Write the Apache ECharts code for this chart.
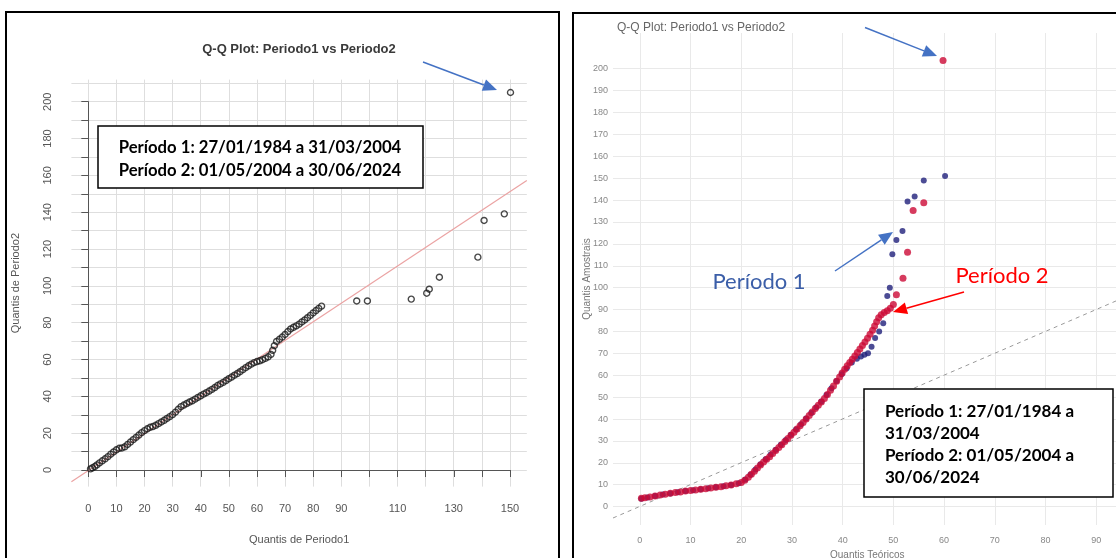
<!DOCTYPE html>
<html>
<head>
<meta charset="utf-8">
<title>Q-Q Plot: Periodo1 vs Periodo2</title>
<script src="https://cdn.jsdelivr.net/npm/echarts@6/dist/echarts.min.js"></script>
</head>
<body style="margin:0; background:#fff">
<div id="main" style="width:1116px; height:558px"></div>
<script>
// ---- gráfico da esquerda: quantis Periodo1 (x) contra Periodo2 (y) ----
var quantisP1 = [0.8, 1.5, 2.3, 3.1, 4, 5, 6, 7, 8, 9, 10, 11, 12, 13, 14, 15, 16, 17, 18, 19,
  20, 21, 22, 23, 24, 25, 26, 27, 28, 29, 30, 31, 32, 33, 34, 35, 36, 37, 38, 39,
  40, 41, 42, 43, 44, 45, 46, 47, 48, 49, 50, 51, 52, 53, 54, 55, 56, 57, 58, 59,
  60, 61, 62, 63, 64, 65, 65.6, 66.2, 67, 68, 69, 70, 71, 72, 73, 74, 75, 76, 77, 78,
  79, 80, 81, 82, 83, 95.5, 99.3, 114.9, 120.4, 121.3, 124.9, 138.6, 140.8, 148, 150.2];
var quantisP2 = [0.6, 1.2, 1.9, 2.8, 3.9, 5.0, 6.1, 7.3, 8.6, 9.8, 11.0, 11.8, 12.0, 12.6, 13.9, 15.2, 16.5, 17.7, 19.0, 20.3,
  21.4, 22.4, 23.2, 23.6, 24.3, 25.2, 26.1, 27.0, 28.0, 29.0, 30.1, 31.4, 33.0, 34.4, 35.3, 36.1, 36.9, 37.6, 38.5, 39.4,
  40.3, 41.2, 42.0, 42.9, 43.8, 44.8, 45.9, 46.8, 47.6, 48.6, 49.6, 50.5, 51.5, 52.4, 53.4, 54.5, 55.6, 56.6, 57.5, 58.3,
  58.9, 59.3, 59.9, 60.6, 61.5, 62.8, 65.0, 67.5, 69.8, 71.0, 72.2, 73.6, 75.2, 76.6, 77.5, 78.3, 79.2, 80.4, 81.5, 82.7,
  84.0, 85.3, 86.6, 87.8, 89.0, 91.8, 91.8, 92.8, 96.0, 98.2, 104.7, 115.6, 135.5, 139.1, 205];
// reta de referência (qqline)
var retaEsq = [[-6, -6.4], [156, 157.2]];
// rótulos que o R deixou nos eixos (100, 120 e 140 ficaram de fora no x)
var rotulosXEsq = [0, 10, 20, 30, 40, 50, 60, 70, 80, 90, 110, 130, 150];
var rotulosYEsq = [0, 20, 40, 60, 80, 100, 120, 140, 160, 180, 200];

// ---- gráfico da direita: quantis teóricos x amostrais ----
var periodo2Dir = [[0.3, 3.8], [1, 4.0], [2, 4.4], [3, 4.8], [4, 5.3], [5, 5.7], [6, 6.1], [7, 6.4], [8, 6.7], [9, 7.1],
  [10, 7.4], [11, 7.6], [12, 7.9], [13, 8.2], [14, 8.5], [15, 8.8], [16, 9.1], [17, 9.5], [18, 9.9], [19, 10.4],
  [20, 11.0], [20.7, 12.0], [21.4, 13.4], [22, 14.8], [22.6, 16.2], [23.2, 17.6], [23.8, 19.0], [24.4, 20.4], [25, 21.6],
  [25.6, 22.8], [26.2, 24.2], [26.8, 25.6], [27.4, 27.0], [28, 28.3], [28.6, 29.7], [29.2, 31.1], [29.8, 32.6],
  [30.4, 34.0], [31, 35.4], [31.6, 36.9], [32.2, 38.4], [32.8, 40.0], [33.4, 41.6], [34, 43.2], [34.6, 44.8],
  [35.2, 46.3], [35.8, 47.8], [36.4, 49.4], [37, 51.2], [37.6, 53.1], [38.2, 55.1], [38.8, 57.2], [39.4, 59.2],
  [39.9, 61.0], [40.4, 62.7], [40.9, 64.3], [41.4, 65.8], [41.9, 67.3], [42.4, 68.8], [42.9, 70.4], [43.4, 72.0],
  [43.9, 73.6], [44.4, 75.2], [44.9, 76.9], [45.4, 78.7], [45.9, 80.6], [46.3, 82.5], [46.7, 84.4], [47.1, 86.2],
  [47.6, 87.6], [48.2, 88.6], [48.8, 89.5], [49.4, 90.6], [50, 92.3], [50.6, 96.7], [51.9, 104.3], [52.8, 116.2],
  [53.9, 135.2], [56, 138.8], [59.8, 203.7]];
var periodo1Dir = [[0.3, 3.6], [1.5, 4.2], [3, 4.8], [4.5, 5.5], [6, 6.0], [7.5, 6.6], [9, 7.1], [10.5, 7.5], [12, 7.9],
  [13.5, 8.4], [15, 8.8], [16.5, 9.3], [18, 9.9], [19.5, 10.7], [20.8, 12.4], [21.8, 14.6], [22.8, 17.0], [23.8, 19.4],
  [24.8, 21.6], [25.8, 23.8], [26.8, 26.0], [27.8, 28.2], [28.8, 30.4], [29.8, 32.8], [30.8, 35.2], [31.8, 37.6],
  [32.8, 40.2], [33.8, 42.8], [34.8, 45.4], [35.8, 48.0], [36.8, 51.0], [37.8, 54.0], [38.8, 57.4], [39.8, 60.4],
  [40.8, 63.2], [41.8, 65.8], [42.8, 67.5], [43.6, 68.6], [44.3, 69.3], [45, 70], [45.7, 73], [46.4, 77], [47.2, 80],
  [48, 83.7], [48.8, 96.2], [49.3, 100], [49.8, 115.3], [50.6, 121.8], [51.8, 125.9], [52.8, 139.3], [54.2, 141.6],
  [56, 148.9], [60.2, 151]];
var retaDir = [[-5.3, -5.2], [95, 95]];

var myChart = echarts.init(document.getElementById('main'));

function pares(xs, ys) {
  return xs.map(function (x, i) { return [x, ys[i]]; });
}

// seta simples: linha + ponta triangular
function seta(x1, y1, x2, y2, cor) {
  var ang = Math.atan2(y2 - y1, x2 - x1), L = 14, W = 6;
  var bx = x2 - L * Math.cos(ang), by = y2 - L * Math.sin(ang);
  var nx = -Math.sin(ang) * W, ny = Math.cos(ang) * W;
  return [
    { type: 'line', z: 110, shape: { x1: x1, y1: y1, x2: bx, y2: by }, style: { stroke: cor, lineWidth: 1.5 } },
    { type: 'polygon', z: 110, shape: { points: [[x2, y2], [bx + nx, by + ny], [bx - nx, by - ny]] }, style: { fill: cor } }
  ];
}

function texto(x, y, t, extra) {
  var st = { text: t, fontFamily: 'Lato', fontSize: 15, fontWeight: 'bold', fill: '#000', align: 'left', verticalAlign: 'middle' };
  for (var k in extra) st[k] = extra[k];
  return { type: 'text', z: 120, x: x, y: y, style: st };
}

var elementos = [
  // molduras dos dois painéis
  { type: 'rect', z: 100, shape: { x: 6, y: 12, width: 553, height: 570 }, style: { fill: 'transparent', stroke: '#000', lineWidth: 2 } },
  { type: 'rect', z: 100, shape: { x: 573, y: 13, width: 570, height: 570 }, style: { fill: 'transparent', stroke: '#000', lineWidth: 2 } },
  // títulos
  texto(299, 49, 'Q-Q Plot: Periodo1 vs Periodo2', { fontFamily: 'Liberation Sans', fontSize: 13, fill: '#3a3a3a', align: 'center' }),
  texto(617, 28, 'Q-Q Plot: Periodo1 vs Periodo2', { fontFamily: 'Liberation Sans', fontSize: 12, fontWeight: 'normal', fill: '#666' }),
  // caixa de períodos (esquerda)
  { type: 'rect', z: 110, shape: { x: 98, y: 126, width: 325, height: 62 }, style: { fill: '#fff', stroke: '#000', lineWidth: 1.5 } },
  texto(260, 148, 'Período 1: 27/01/1984 a 31/03/2004', { align: 'center', fontSize: 16.7 }),
  texto(260, 171, 'Período 2: 01/05/2004 a 30/06/2024', { align: 'center', fontSize: 16.7 }),
  // caixa de períodos (direita)
  { type: 'rect', z: 110, shape: { x: 864, y: 389, width: 249, height: 108 }, style: { fill: '#fff', stroke: '#000', lineWidth: 1.5 } },
  texto(885, 411.5, 'Período 1: 27/01/1984 a', { fontSize: 17 }),
  texto(885, 433.5, '31/03/2004', { fontSize: 17 }),
  texto(885, 455.5, 'Período 2: 01/05/2004 a', { fontSize: 17 }),
  texto(885, 478, '30/06/2024', { fontSize: 17 }),
  // rótulos das séries
  texto(759, 282, 'Período 1', { fontSize: 22, fontWeight: 'normal', fill: '#3b5ea8', align: 'center' }),
  texto(1002, 276, 'Período 2', { fontSize: 22, fontWeight: 'normal', fill: '#ff0000', align: 'center' })
];
elementos = elementos
  .concat(seta(423, 62, 497, 90, '#4472c4'))
  .concat(seta(865, 27.5, 937, 56, '#4472c4'))
  .concat(seta(835, 271, 893, 232, '#4472c4'))
  .concat(seta(964, 292, 893, 312, '#ff0000'));

var rotuloEsq = { fontFamily: 'Liberation Sans', fontSize: 11, color: '#555' };
var gradeEsq = { color: '#dedede', width: 1 };
var gradeDir = { color: '#e9e9e9', width: 1 };

var option = {
  animation: false,
  backgroundColor: '#fff',
  graphic: { elements: elementos },
  grid: [
    { left: 71.4, top: 79.6, width: 455.4, height: 407, outerBoundsMode: 'none' },    // área de plotagem (esq.)
    { left: 88.3, top: 101.7, width: 421.7, height: 368.3, outerBoundsMode: 'none' }, // eixos no estilo R (só 0-150 / 0-200)
    { left: 613, top: 33, width: 508.5, height: 492, outerBoundsMode: 'none' },       // área de plotagem (dir.)
    { left: 613, top: 49, width: 508.5, height: 476, outerBoundsMode: 'none' }        // linhas horizontais/rotulos y (dir.)
  ],
  xAxis: [
    { gridIndex: 0, type: 'value', min: -6, max: 156, minInterval: 10, maxInterval: 10,
      axisLine: { show: false }, axisTick: { show: false }, axisLabel: { show: false },
      splitLine: { show: true, showMinLine: false, showMaxLine: false, lineStyle: gradeEsq },
      name: 'Quantis de Periodo1', nameLocation: 'middle', nameGap: 48, nameTextStyle: rotuloEsq },
    { gridIndex: 1, type: 'value', min: 0, max: 150, interval: 10, offset: 16.6,
      axisLine: { lineStyle: { color: '#555' } }, axisTick: { length: 7, lineStyle: { color: '#555' } },
      axisLabel: { margin: 17, fontFamily: 'Liberation Sans', fontSize: 11, color: '#555',
        formatter: function (v) { return rotulosXEsq.indexOf(v) >= 0 ? String(v) : ''; } },
      splitLine: { show: false } },
    { gridIndex: 2, type: 'value', min: -5.3, max: 95, minInterval: 10, maxInterval: 10,
      axisLine: { show: false }, axisTick: { show: false },
      axisLabel: { showMinLabel: false, showMaxLabel: false, margin: 11, fontFamily: 'Liberation Sans', fontSize: 9, color: '#888' },
      splitLine: { show: true, showMinLine: false, showMaxLine: false, lineStyle: gradeDir },
      name: 'Quantis Teóricos', nameLocation: 'middle', nameGap: 22, nameTextStyle: { fontFamily: 'Liberation Sans', fontSize: 10, color: '#777' } },
    { gridIndex: 3, type: 'value', min: -5.3, max: 95, show: false }
  ],
  yAxis: [
    { gridIndex: 0, type: 'value', min: -9, max: 212, minInterval: 10, maxInterval: 10,
      axisLine: { show: false }, axisTick: { show: false }, axisLabel: { show: false },
      splitLine: { show: true, showMinLine: false, showMaxLine: false, lineStyle: gradeEsq },
      name: 'Quantis de Periodo2', nameLocation: 'middle', nameGap: 50, nameTextStyle: rotuloEsq },
    { gridIndex: 1, type: 'value', min: 0, max: 200, interval: 10, offset: 16.9,
      axisLine: { show: true, lineStyle: { color: '#555' } }, axisTick: { show: true, length: 7, lineStyle: { color: '#555' } },
      axisLabel: { rotate: 90, margin: 18, fontFamily: 'Liberation Sans', fontSize: 11, color: '#555',
        formatter: function (v) { return rotulosYEsq.indexOf(v) >= 0 ? String(v) : ''; } },
      splitLine: { show: false } },
    { gridIndex: 2, type: 'value', min: -8.4, max: 216.3,
      axisLine: { show: false }, axisTick: { show: false }, axisLabel: { show: false }, splitLine: { show: false },
      name: 'Quantis Amostrais', nameLocation: 'middle', nameGap: 21, nameTextStyle: { fontFamily: 'Liberation Sans', fontSize: 10, color: '#777' } },
    { gridIndex: 3, type: 'value', min: -8.4, max: 209, minInterval: 10, maxInterval: 10,
      axisLine: { show: false }, axisTick: { show: false },
      axisLabel: { showMinLabel: false, showMaxLabel: false, margin: 5, fontFamily: 'Liberation Sans', fontSize: 9, color: '#888' },
      splitLine: { show: true, showMinLine: false, showMaxLine: false, lineStyle: gradeDir } }
  ],
  series: [
    { type: 'line', xAxisIndex: 0, yAxisIndex: 0, data: retaEsq, symbol: 'none', silent: true,
      lineStyle: { color: '#eba3a3', width: 1.2 }, z: 3 },
    { type: 'scatter', xAxisIndex: 0, yAxisIndex: 0, data: pares(quantisP1, quantisP2), symbol: 'circle', symbolSize: 6,
      itemStyle: { color: 'transparent', borderColor: '#1a1a1a', borderWidth: 1.4 }, z: 4 },
    { type: 'line', xAxisIndex: 2, yAxisIndex: 2, data: retaDir, symbol: 'none', silent: true,
      lineStyle: { color: '#9a9a9a', width: 1, type: [4, 4] }, z: 3 },
    { type: 'scatter', name: 'Período 1', xAxisIndex: 2, yAxisIndex: 2, data: periodo1Dir, symbolSize: 6,
      itemStyle: { color: '#1f1f7a' }, z: 4 },
    { type: 'scatter', name: 'Período 2', xAxisIndex: 2, yAxisIndex: 2, data: periodo2Dir, symbolSize: 7,
      itemStyle: { color: '#cc0a36' }, z: 5 }
  ]
};

myChart.setOption(option);
</script>
</body>
</html>
